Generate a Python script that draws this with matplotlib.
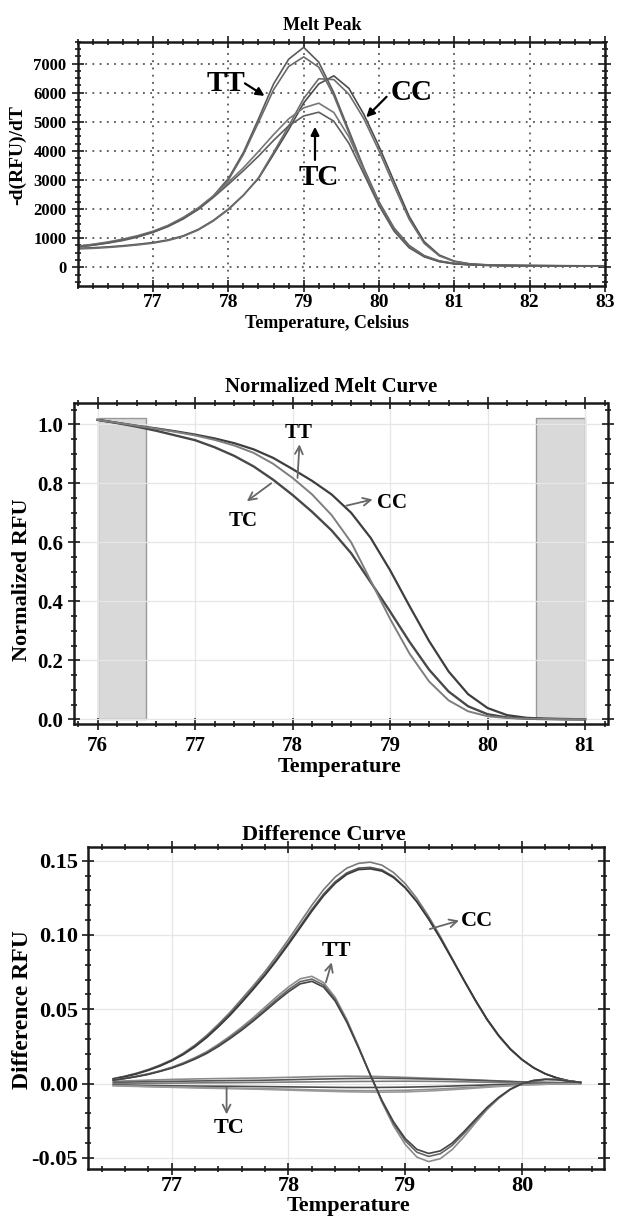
import matplotlib
matplotlib.use("Agg")
import matplotlib.pyplot as plt
from matplotlib.ticker import MultipleLocator, FixedLocator
import numpy as np

plt.rcParams['font.family'] = ['Liberation Serif', 'DejaVu Serif']
plt.rcParams['font.weight'] = 'bold'
plt.rcParams['axes.labelweight'] = 'bold'

# ---------------- Panel 1: Melt Peak ----------------
temp_peak = [76.0, 76.2, 76.4, 76.6, 76.8, 77.0, 77.2, 77.4, 77.6, 77.8,
             78.0, 78.2, 78.4, 78.6, 78.8, 79.0, 79.2, 79.4, 79.6, 79.8,
             80.0, 80.2, 80.4, 80.6, 80.8, 81.0, 81.2, 81.4, 81.6, 82.0, 82.5, 83.0]
peak_tt1 = [720, 780, 850, 940, 1060, 1220, 1430, 1700, 2030, 2450,
            3050, 3950, 5100, 6300, 7150, 7560, 7050, 6000, 4700, 3400,
            2250, 1350, 750, 400, 220, 130, 95, 75, 62, 55, 50, 48]
peak_tt2 = [700, 760, 830, 920, 1040, 1200, 1400, 1660, 1990, 2420,
            3000, 3880, 4980, 6100, 6900, 7230, 6880, 5900, 4620, 3330,
            2200, 1320, 730, 390, 210, 125, 90, 72, 60, 53, 48, 46]
peak_tc1 = [730, 790, 870, 970, 1090, 1240, 1440, 1710, 2040, 2450,
            2920, 3420, 3980, 4560, 5100, 5480, 5640, 5320, 4480, 3330,
            2180, 1270, 690, 370, 200, 120, 88, 70, 58, 52, 48, 46]
peak_tc2 = [700, 760, 840, 940, 1060, 1210, 1410, 1670, 1990, 2400,
            2850, 3320, 3820, 4360, 4860, 5200, 5330, 5020, 4260, 3200,
            2120, 1240, 670, 360, 195, 118, 86, 68, 57, 51, 47, 45]
peak_cc1 = [650, 670, 700, 740, 790, 850, 940, 1080, 1300, 1610,
            2000, 2480, 3050, 3880, 4730, 5650, 6300, 6580, 6150, 5250,
            4150, 2950, 1750, 880, 420, 210, 120, 88, 70, 58, 52, 50]
peak_cc2 = [630, 650, 680, 720, 770, 830, 920, 1060, 1280, 1590,
            1980, 2470, 3080, 3950, 4850, 5800, 6480, 6450, 5950, 5100,
            4000, 2800, 1650, 820, 390, 200, 115, 85, 66, 56, 50, 48]
peak_xticks = [77, 78, 79, 80, 81, 82, 83]
peak_yticks = [0, 1000, 2000, 3000, 4000, 5000, 6000, 7000]

# ---------------- Panel 2: Normalized Melt Curve ----------------
temp_norm = [76.0, 76.2, 76.4, 76.6, 76.8, 77.0, 77.2, 77.4, 77.6, 77.8,
             78.0, 78.2, 78.4, 78.6, 78.8, 79.0, 79.2, 79.4, 79.6, 79.8,
             80.0, 80.2, 80.4, 80.6, 80.8, 81.0]
norm_cc = [1.015, 1.005, 0.995, 0.986, 0.976, 0.965, 0.952, 0.936, 0.915, 0.886,
           0.848, 0.808, 0.762, 0.700, 0.615, 0.505, 0.383, 0.265, 0.162, 0.085,
           0.038, 0.014, 0.005, 0.002, 0.001, 0.000]
norm_tt = [1.015, 1.005, 0.995, 0.985, 0.974, 0.962, 0.947, 0.928, 0.903, 0.866,
           0.818, 0.762, 0.692, 0.600, 0.470, 0.340, 0.222, 0.128, 0.064, 0.027,
           0.010, 0.004, 0.002, 0.001, 0.000, 0.000]
norm_tc = [1.015, 1.004, 0.992, 0.978, 0.962, 0.946, 0.922, 0.893, 0.857, 0.812,
           0.760, 0.703, 0.640, 0.563, 0.465, 0.365, 0.262, 0.168, 0.094, 0.044,
           0.017, 0.006, 0.002, 0.001, 0.000, 0.000]
norm_regions = [(76.0, 76.5), (80.5, 81.0)]
norm_region_top = 1.02
norm_xticks = [76, 77, 78, 79, 80, 81]
norm_yticks = [0.0, 0.2, 0.4, 0.6, 0.8, 1.0]

# ---------------- Panel 3: Difference Curve ----------------
temp_diff = [76.5, 76.6, 76.7, 76.8, 76.9, 77.0, 77.1, 77.2, 77.3, 77.4,
             77.5, 77.6, 77.7, 77.8, 77.9, 78.0, 78.1, 78.2, 78.3, 78.4,
             78.5, 78.6, 78.7, 78.8, 78.9, 79.0, 79.1, 79.2, 79.3, 79.4,
             79.5, 79.6, 79.7, 79.8, 79.9, 80.0, 80.1, 80.2, 80.3, 80.4, 80.5]
diff_cc1 = [.0034, .0050, .0070, .0095, .0125, .0160, .0205, .0260, .0325, .0400,
            .0480, .0570, .0660, .0755, .0860, .0970, .1085, .1200, .1305, .1390,
            .1450, .1482, .1490, .1470, .1420, .1345, .1245, .1125, .0990, .0845,
            .0700, .0560, .0430, .0320, .0230, .0160, .0105, .0065, .0037, .0018, .0008]
diff_cc2 = [.0032, .0048, .0068, .0092, .0121, .0156, .0200, .0253, .0316, .0389,
            .0468, .0555, .0645, .0738, .0840, .0948, .1060, .1172, .1275, .1358,
            .1418, .1450, .1455, .1438, .1392, .1320, .1225, .1108, .0978, .0838,
            .0696, .0558, .0430, .0320, .0230, .0160, .0105, .0065, .0037, .0018, .0008]
diff_cc3 = [.0030, .0046, .0065, .0089, .0118, .0153, .0196, .0248, .0310, .0382,
            .0460, .0546, .0636, .0729, .0830, .0937, .1048, .1160, .1263, .1347,
            .1408, .1440, .1445, .1430, .1386, .1316, .1222, .1107, .0978, .0840,
            .0700, .0563, .0435, .0325, .0234, .0162, .0107, .0066, .0038, .0019, .0008]
diff_tt1 = [.0025, .0036, .0050, .0066, .0086, .0110, .0140, .0175, .0215, .0265,
            .0320, .0380, .0445, .0515, .0585, .0650, .0705, .0722, .0680, .0580,
            .0430, .0250, .0060, -.0125, -.0285, -.0410, -.0495, -.0525, -.0505, -.0445,
            -.0360, -.0265, -.0175, -.0100, -.0040, .0000, .0022, .0030, .0028, .0018, .0008]
diff_tt2 = [.0024, .0035, .0048, .0064, .0084, .0107, .0136, .0170, .0209, .0257,
            .0311, .0369, .0432, .0500, .0568, .0632, .0686, .0703, .0664, .0566,
            .0420, .0244, .0060, -.0118, -.0268, -.0385, -.0462, -.0490, -.0472, -.0417,
            -.0338, -.0250, -.0166, -.0095, -.0038, .0000, .0021, .0029, .0027, .0017, .0008]
diff_tt3 = [.0023, .0034, .0047, .0062, .0082, .0104, .0132, .0165, .0203, .0250,
            .0303, .0360, .0422, .0488, .0555, .0618, .0671, .0688, .0650, .0555,
            .0412, .0240, .0060, -.0113, -.0258, -.0370, -.0443, -.0470, -.0453, -.0401,
            -.0325, -.0241, -.0160, -.0092, -.0037, .0000, .0020, .0028, .0026, .0016, .0008]
temp_diff_tc = [76.5, 76.75, 77.0, 77.25, 77.5, 77.75, 78.0, 78.25, 78.5, 78.75,
                79.0, 79.25, 79.5, 79.75, 80.0, 80.25, 80.5]
diff_tc1 = [.0015, .0022, .0028, .0032, .0035, .0038, .0042, .0047, .0050, .0048,
            .0042, .0035, .0028, .0020, .0012, .0008, .0005]
diff_tc2 = [.0008, .0012, .0015, .0018, .0020, .0022, .0026, .0030, .0034, .0036,
            .0034, .0030, .0025, .0018, .0010, .0006, .0004]
diff_tc3 = [.0000, .0002, .0003, .0005, .0006, .0008, .0010, .0012, .0014, .0015,
            .0016, .0015, .0012, .0008, .0004, .0002, .0002]
diff_tc4 = [-.0008, -.0012, -.0015, -.0017, -.0018, -.0020, -.0022, -.0024, -.0026, -.0026,
            -.0024, -.0020, -.0014, -.0008, -.0004, -.0001, .0001]
diff_tc5 = [-.0012, -.0018, -.0022, -.0026, -.0030, -.0034, -.0038, -.0043, -.0047, -.0048,
            -.0045, -.0038, -.0028, -.0018, -.0009, -.0003, .0000]
diff_tc6 = [-.0015, -.0020, -.0025, -.0030, -.0034, -.0038, -.0044, -.0050, -.0055, -.0058,
            -.0056, -.0048, -.0036, -.0022, -.0010, -.0003, .0000]
diff_xticks = [77, 78, 79, 80]
diff_yticks = [-0.05, 0.0, 0.05, 0.10, 0.15]
diff_yticklabels = ['-0.05', '0.00', '0.05', '0.10', '0.15']

W, H = 619, 1216
fig = plt.figure(figsize=(W / 100, H / 100), dpi=100)


def axes_px(l, t, r, b):
    return fig.add_axes([l / W, 1 - b / H, (r - l) / W, (b - t) / H])


def style_axes(ax, lw=1.8):
    for s in ax.spines.values():
        s.set_linewidth(lw)
        s.set_color('#1a1a1a')
    ax.tick_params(which='both', direction='inout', top=True, right=True,
                   width=1.2, color='#1a1a1a')
    ax.tick_params(which='major', length=8)
    ax.tick_params(which='minor', length=5)


# ---------- Panel 1 ----------
ax1 = axes_px(77.7, 41.5, 605, 285.6)
style_axes(ax1)
ax1.set_xlim(76, 83)
ax1.set_ylim(-630, 7760)
ax1.xaxis.set_major_locator(FixedLocator(peak_xticks))
ax1.xaxis.set_minor_locator(MultipleLocator(0.2))
ax1.yaxis.set_major_locator(FixedLocator(peak_yticks))
ax1.yaxis.set_minor_locator(MultipleLocator(250))
ax1.tick_params(axis='x', labelsize=14, pad=2)
ax1.tick_params(axis='y', labelsize=12, pad=4)
ax1.grid(True, which='major', linestyle=(0, (1, 3)), color='#555555', lw=1.3)
for ys, c in [(peak_cc1, '#4d4d4d'), (peak_cc2, '#6e6e6e'), (peak_tt1, '#5a5a5a'),
              (peak_tt2, '#6a6a6a'), (peak_tc1, '#777777'), (peak_tc2, '#5e5e5e')]:
    ax1.plot(temp_peak, ys, color=c, lw=1.2)
arrow_k = dict(arrowstyle='-|>', color='k', lw=1.6, mutation_scale=12, shrinkA=0, shrinkB=0)
ax1.text(77.97, 6300, 'TT', fontsize=21, ha='center', va='center')
ax1.annotate('', xy=(78.48, 5890), xytext=(78.22, 6320), arrowprops=arrow_k)
ax1.text(80.43, 6000, 'CC', fontsize=21, ha='center', va='center')
ax1.annotate('', xy=(79.83, 5155), xytext=(80.1, 5860), arrowprops=arrow_k)
ax1.text(79.2, 3100, 'TC', fontsize=21, ha='center', va='center')
ax1.annotate('', xy=(79.15, 4830), xytext=(79.15, 3690), arrowprops=arrow_k)
fig.text(322 / W, 1 - 25 / H, 'Melt Peak', fontsize=13, ha='center', va='center')
fig.text(327 / W, 1 - 324 / H, 'Temperature, Celsius', fontsize=13, ha='center', va='center')
fig.text(18 / W, 1 - 155 / H, '-d(RFU)/dT', fontsize=14, ha='center', va='center', rotation=90)

# ---------- Panel 2 ----------
ax2 = axes_px(74, 403.2, 607.5, 723.6)
style_axes(ax2)
ax2.set_xlim(75.757, 81.23)
ax2.set_ylim(-0.0147, 1.0714)
ax2.xaxis.set_major_locator(FixedLocator(norm_xticks))
ax2.xaxis.set_minor_locator(MultipleLocator(0.2))
ax2.yaxis.set_major_locator(FixedLocator(norm_yticks))
ax2.yaxis.set_minor_locator(MultipleLocator(0.05))
ax2.set_yticklabels(['%.1f' % v for v in norm_yticks])
ax2.tick_params(axis='both', labelsize=15)
ax2.tick_params(axis='x', pad=5)
ax2.grid(True, which='major', color='#e6e6e6', lw=0.9)
for x0, x1 in norm_regions:
    ax2.fill_between([x0, x1], 0, norm_region_top, facecolor='#d9d9d9',
                     edgecolor='#9a9a9a', lw=1.0, zorder=1)
ax2.plot(temp_norm, norm_tc, color='#484848', lw=1.7, zorder=3)
ax2.plot(temp_norm, norm_cc, color='#3e3e3e', lw=1.6, zorder=3)
ax2.plot(temp_norm, norm_tt, color='#7e7e7e', lw=1.4, zorder=3)
arrow_g = dict(arrowstyle='->', color='#666666', lw=1.3, mutation_scale=14,
               shrinkA=0, shrinkB=0)
ax2.text(78.06, 0.972, 'TT', fontsize=15, ha='center', va='center')
ax2.annotate('', xy=(78.07, 0.932), xytext=(78.05, 0.818), arrowprops=arrow_g)
ax2.text(79.02, 0.734, 'CC', fontsize=15, ha='center', va='center')
ax2.annotate('', xy=(78.82, 0.745), xytext=(78.55, 0.724), arrowprops=arrow_g)
ax2.text(77.49, 0.671, 'TC', fontsize=15, ha='center', va='center')
ax2.annotate('', xy=(77.53, 0.739), xytext=(77.78, 0.80), arrowprops=arrow_g)
fig.text(331 / W, 1 - 387 / H, 'Normalized Melt Curve', fontsize=15, ha='center', va='center')
fig.text(340 / W, 1 - 767 / H, 'Temperature', fontsize=16, ha='center', va='center')
fig.text(22 / W, 1 - 580 / H, 'Normalized RFU', fontsize=16, ha='center', va='center', rotation=90)

# ---------- Panel 3 ----------
ax3 = axes_px(88.3, 847.3, 604.3, 1168.6)
style_axes(ax3)
ax3.set_xlim(76.286, 80.704)
ax3.set_ylim(-0.0572, 0.159)
ax3.xaxis.set_major_locator(FixedLocator(diff_xticks))
ax3.xaxis.set_minor_locator(MultipleLocator(0.2))
ax3.yaxis.set_major_locator(FixedLocator(diff_yticks))
ax3.yaxis.set_minor_locator(MultipleLocator(0.01))
ax3.set_yticklabels(diff_yticklabels)
ax3.tick_params(axis='both', labelsize=16)
ax3.tick_params(axis='x', pad=1)
ax3.grid(True, which='major', color='#e6e6e6', lw=0.9)
for ys, c in [(diff_tc1, '#8a8a8a'), (diff_tc2, '#555555'), (diff_tc3, '#7a7a7a'),
              (diff_tc4, '#4a4a4a'), (diff_tc5, '#8f8f8f'), (diff_tc6, '#9a9a9a')]:
    ax3.plot(temp_diff_tc, ys, color=c, lw=1.2)
for ys, c in [(diff_cc1, '#7a7a7a'), (diff_cc2, '#555555'), (diff_cc3, '#3a3a3a'),
              (diff_tt1, '#8c8c8c'), (diff_tt2, '#666666'), (diff_tt3, '#444444')]:
    ax3.plot(temp_diff, ys, color=c, lw=1.2)
ax3.text(79.61, 0.1097, 'CC', fontsize=16, ha='center', va='center')
ax3.annotate('', xy=(79.46, 0.1097), xytext=(79.21, 0.104), arrowprops=arrow_g)
ax3.text(78.41, 0.0894, 'TT', fontsize=16, ha='center', va='center')
ax3.annotate('', xy=(78.37, 0.0816), xytext=(78.32, 0.068), arrowprops=arrow_g)
ax3.text(77.49, -0.0297, 'TC', fontsize=16, ha='center', va='center')
ax3.annotate('', xy=(77.47, -0.0207), xytext=(77.47, -0.0027), arrowprops=arrow_g)
fig.text(324 / W, 1 - 835 / H, 'Difference Curve', fontsize=16, ha='center', va='center')
fig.text(349 / W, 1 - 1206 / H, 'Temperature', fontsize=16, ha='center', va='center')
fig.text(22 / W, 1 - 1010 / H, 'Difference RFU', fontsize=17, ha='center', va='center', rotation=90)

fig.savefig('out.png', dpi=100, facecolor='white')
